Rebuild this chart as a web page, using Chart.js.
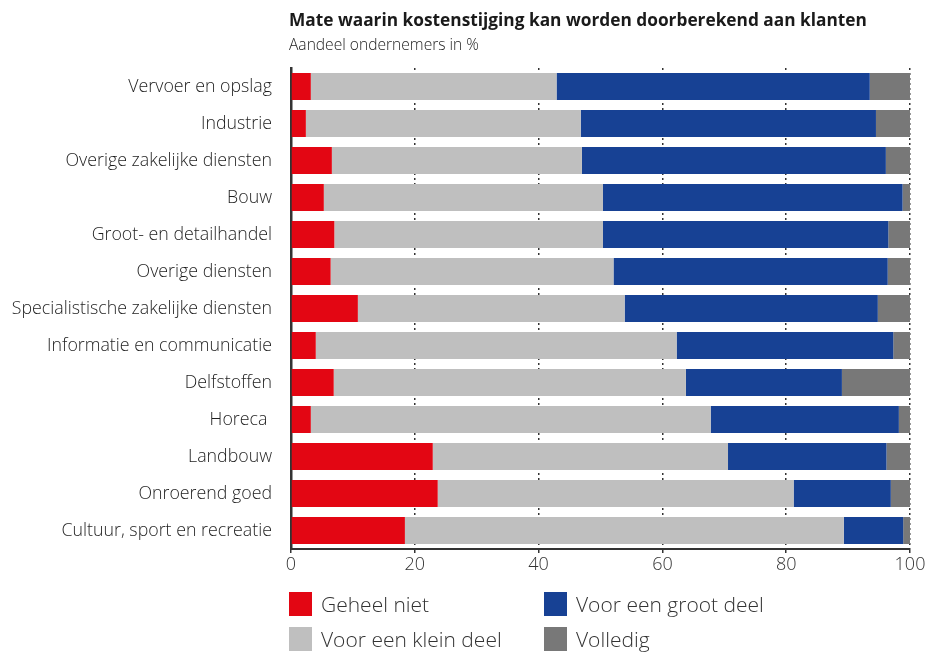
<!DOCTYPE html>
<html>
<head>
<meta charset="utf-8">
<script src="https://cdn.jsdelivr.net/npm/chart.js@4.4.0/dist/chart.umd.min.js"></script>
<style>
  html, body { margin: 0; padding: 0; background: #fff; overflow: hidden; }
  #wrap { position: relative; width: 930px; height: 653px; font-family: "Open Sans", Lato, sans-serif; color: #222; }
  #myChart { position: absolute; left: 0; top: 0; }
  #title { position: absolute; left: 289px; top: 8px; font-size: 17.3px; font-weight: 700; color: #1a1a1a; white-space: nowrap; }
  #subtitle { position: absolute; left: 289px; top: 33px; font-size: 15.6px; font-weight: 300; color: #222; white-space: nowrap; }
  #legend { position: absolute; left: 289px; top: 592px; display: grid; grid-template-columns: 255px 255px; grid-auto-flow: column; grid-template-rows: 35px 35px; }
  .item { display: flex; align-items: center; height: 24px; font-size: 21px; font-weight: 300; color: #333; white-space: nowrap; }
  .box { width: 23px; height: 24px; margin-right: 9px; flex: none; }
</style>
</head>
<body>
<div id="wrap">
  <canvas id="myChart" width="930" height="653"></canvas>
  <div id="title">Mate waarin kostenstijging kan worden doorberekend aan klanten</div>
  <div id="subtitle">Aandeel ondernemers in %</div>
  <div id="legend"></div>
</div>
<script>
const ctx = document.querySelector('#myChart').getContext("2d");

// categories (top to bottom)
const categories = [
    'Vervoer en opslag',
    'Industrie',
    'Overige zakelijke diensten',
    'Bouw',
    'Groot- en detailhandel',
    'Overige diensten',
    'Specialistische zakelijke diensten',
    'Informatie en communicatie',
    'Delfstoffen',
    'Horeca ',
    'Landbouw',
    'Onroerend goed',
    'Cultuur, sport en recreatie'
];

// share of entrepreneurs in %
const geheelNiet  = [3.2, 2.4, 6.6, 5.3, 7.0, 6.4, 10.8, 4.0, 6.9, 3.2, 22.9, 23.7, 18.4];
const kleinDeel   = [39.7, 44.4, 40.4, 45.1, 43.4, 45.7, 43.1, 58.3, 56.9, 64.6, 47.7, 57.5, 70.9];
const grootDeel   = [50.6, 47.7, 49.1, 48.4, 46.1, 44.3, 40.9, 35.0, 25.2, 30.4, 25.6, 15.7, 9.6];
const volledig    = [6.5, 5.5, 3.9, 1.2, 3.5, 3.6, 5.2, 2.7, 11.0, 1.8, 3.8, 3.1, 1.1];

const seriesNames = ['Geheel niet', 'Voor een klein deel', 'Voor een groot deel', 'Volledig'];
const xTicks = [0, 20, 40, 60, 80, 100];

const colors = ['#e30613', '#bfbfbf', '#174194', '#787878'];

const data = {
    labels: categories,
    datasets: [geheelNiet, kleinDeel, grootDeel, volledig].map((vals, i) => ({
        label: seriesNames[i],
        data: vals,
        backgroundColor: colors[i],
        borderWidth: 0,
        barPercentage: 0.73,
        categoryPercentage: 1.0
    }))
};

const config = {
    type: 'bar',
    data: data,
    options: {
        indexAxis: 'y',
        responsive: false,
        animation: false,
        layout: { padding: { top: 68, right: 20, bottom: 64, left: 0 } },
        plugins: {
            legend: { display: false },
            title: { display: false },
            tooltip: { enabled: false }
        },
        scales: {
            x: {
                stacked: true,
                min: 0,
                max: 100,
                afterBuildTicks: (scale) => { scale.ticks = xTicks.map(v => ({ value: v })); },
                afterFit: (scale) => { scale.height = 40; },
                grid: {
                    color: '#333',
                    lineWidth: 1.5,
                    drawTicks: true,
                    tickLength: 4,
                    tickBorderDash: [],
                    tickColor: '#333'
                },
                border: { display: true, color: '#333', width: 2, dash: [2, 3] },
                ticks: {
                    padding: 1,
                    color: '#333',
                    font: { family: 'Open Sans', size: 18, weight: '300' }
                }
            },
            y: {
                stacked: true,
                afterFit: (scale) => { scale.width = 291; },
                grid: { display: false, drawTicks: false },
                border: { display: true, color: '#333', width: 2.5 },
                ticks: {
                    padding: 19,
                    color: '#1e1e1e',
                    font: { family: 'Open Sans', size: 17.8, weight: '300' }
                }
            }
        }
    }
};

const myChart = new Chart(ctx, config);

// legend: two columns, built from the datasets
const legendEl = document.getElementById('legend');
myChart.data.datasets.forEach(ds => {
    const item = document.createElement('div');
    item.className = 'item';
    const box = document.createElement('span');
    box.className = 'box';
    box.style.background = ds.backgroundColor;
    item.appendChild(box);
    item.appendChild(document.createTextNode(ds.label));
    legendEl.appendChild(item);
});
</script>
</body>
</html>
